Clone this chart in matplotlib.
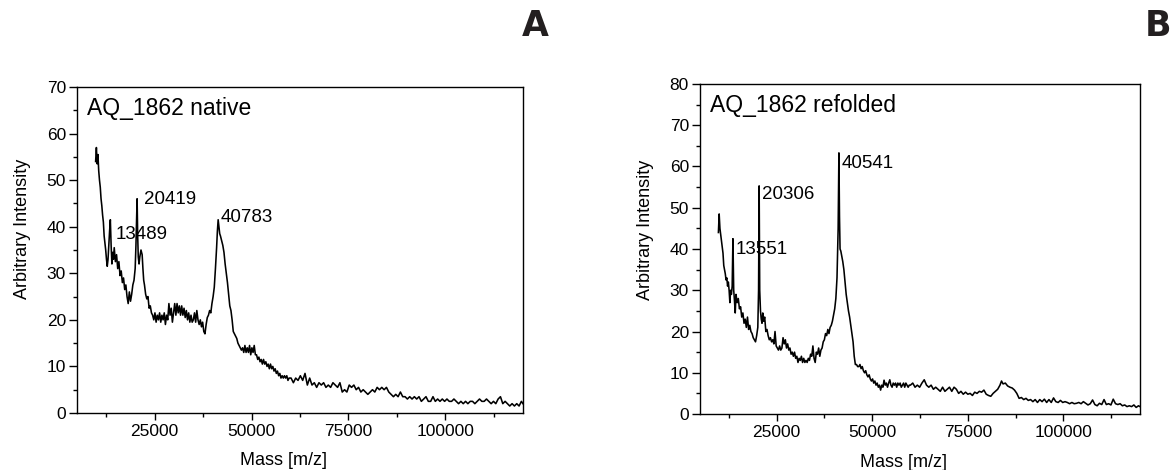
import matplotlib
matplotlib.use("Agg")
import matplotlib.pyplot as plt
from matplotlib.ticker import MultipleLocator

plt.rcParams['font.family'] = ['Liberation Sans', 'DejaVu Sans']

# ---------------- data: panel A (native) ----------------
mass_a = [
    9800, 10000, 10200, 10400, 10600, 10800, 11000, 11200, 11400, 11600,
    11800, 12000, 12200, 12400, 12600, 12800, 13000, 13200, 13400, 13600,
    13800, 14000, 14200, 14400, 14600, 14900, 15200, 15500, 15800, 16100,
    16400, 16700, 17000, 17300, 17600, 17900, 18200, 18500, 18800, 19100,
    19400, 19700, 20000, 20200, 20400, 20500, 20650, 20800, 21000, 21200,
    21500, 21800, 22000, 22200, 22400, 22700, 23000, 23300, 23600, 23900,
    24200, 24500, 24800, 25100, 25400, 25700, 26000, 26300, 26600, 26900,
    27200, 27500, 27800, 28100, 28400, 28700, 29000, 29300, 29600, 29900,
    30200, 30500, 30800, 31100, 31400, 31700, 32000, 32300, 32600, 32900,
    33200, 33500, 33800, 34100, 34400, 34700, 35000, 35300, 35600, 35900,
    36200, 36500, 36800, 37100, 37400, 37700, 38000, 38300, 38600, 38900,
    39200, 39500, 39800, 40100, 40400, 40700, 41000, 41200, 41400, 41600,
    41800, 42000, 42300, 42600, 42900, 43200, 43500, 43800, 44100, 44400,
    44700, 45000, 45300, 45600, 45900, 46200, 46500, 46800, 47100, 47400,
    47700, 48000, 48300, 48600, 48900, 49200, 49500, 49800, 50100, 50400,
    50700, 51000, 51300, 51600, 51900, 52200, 52500, 52800, 53100, 53400,
    53700, 54000, 54300, 54600, 54900, 55200, 55500, 55800, 56100, 56400,
    56700, 57000, 57300, 57600, 57900, 58200, 58500, 58800, 59100, 59400,
    59700, 60200, 60800, 61400, 62000, 62600, 63200, 63800, 64400, 65000,
    65600, 66200, 66800, 67400, 68000, 68600, 69200, 69800, 70400, 71000,
    71600, 72200, 72800, 73400, 74000, 74600, 75200, 75800, 76400, 77000,
    77600, 78200, 78800, 79400, 80000, 80600, 81200, 81800, 82400, 83000,
    83600, 84200, 84800, 85400, 86000, 86600, 87200, 87800, 88400, 89000,
    89600, 90200, 90800, 91400, 92000, 92600, 93200, 93800, 94400, 95000,
    95600, 96200, 96800, 97400, 98000, 98600, 99200, 99800, 100400, 101000,
    101600, 102200, 102800, 103400, 104000, 104600, 105200, 105800, 106400, 107000,
    107600, 108200, 108800, 109400, 110000, 110600, 111200, 111800, 112400, 113000,
    113600, 114200, 114800, 115400, 116000, 116600, 117200, 117800, 118400, 119000,
    119600, 120000,
]
intensity_a = [
    54, 57, 53.5, 55.5, 52, 50, 48.5, 46, 44.5, 42.5,
    41, 38, 36.5, 35, 33, 31.5, 33, 36, 39, 41.5,
    36, 32, 34.5, 33, 35.5, 32.5, 34, 31, 32.5, 29.5,
    30.5, 28, 29, 26.5, 27.5, 25, 23.5, 26, 24, 25.5,
    27.5, 28.5, 31, 36, 43, 46, 38, 33.5, 32, 33.5,
    35, 34, 31, 28.5, 27.5, 25.5, 24.5, 25, 22.5, 23,
    21.5, 21, 20, 21.5, 19.5, 21, 20, 21.5, 19.5, 21,
    20, 21.5, 19, 21, 20, 23.5, 21, 22.5, 19.5, 21.5,
    23.5, 21, 23.5, 21.5, 23, 21, 23, 21, 22.5, 20.5,
    22, 20, 21.5, 19.5, 21, 19.5, 20, 21.5, 19.5, 22,
    20, 19, 20, 18.5, 19.5, 17.5, 17, 19, 20.5, 21,
    22, 21.5, 23.5, 25, 27, 31, 35.5, 39, 41.5, 40,
    38.5, 38, 37, 36, 34.5, 32, 30, 28, 25.5, 23,
    22, 20, 17.5, 17, 16.5, 16, 15, 14.5, 14, 13.5,
    14, 13, 14.5, 13, 14, 13, 14.5, 12.5, 14, 13,
    14.5, 12.5, 12.5, 11.5, 12, 11, 11.5, 10.5, 11.5, 10.5,
    11, 10, 10.5, 9.5, 10.5, 9.5, 10, 9, 9.5, 8.5,
    9, 8, 8.5, 7.5, 8, 7.5, 8, 7.5, 8, 7,
    7.5, 7.5, 6.5, 7.5, 7, 8, 7, 8.5, 6, 7.5,
    6, 6.5, 5.5, 6.5, 6, 6.5, 5.5, 6, 5.5, 6.5,
    6, 5.5, 6.5, 4.5, 5, 4.5, 6, 5.5, 6, 5,
    5.5, 4.5, 5, 4.5, 4, 4.5, 5, 4.5, 5.5, 5,
    5.5, 5, 5.5, 4.5, 4, 3.5, 4, 3.5, 4.5, 3.5,
    3.5, 3, 3.5, 3, 3.5, 3, 3.5, 2.5, 3, 3.5,
    2.5, 2.5, 3.5, 2.5, 3, 2.5, 3, 2.5, 3, 2.5,
    2.5, 3, 2.5, 2, 2.5, 2, 2.5, 2, 2.5, 2.5,
    2, 2.5, 3, 2.5, 2.5, 3, 2.5, 2, 2.5, 2,
    3, 3.5, 2, 2.5, 2, 1.5, 2, 1.5, 2, 1.5,
    2.5, 2,
]

# ---------------- data: panel B (refolded) ----------------
mass_b = [
    9800, 10000, 10200, 10400, 10600, 10800, 11000, 11200, 11400, 11600,
    11800, 12000, 12200, 12400, 12600, 12800, 13000, 13200, 13400, 13600,
    13800, 14000, 14200, 14400, 14700, 15000, 15300, 15600, 15900, 16200,
    16500, 16800, 17100, 17400, 17700, 18000, 18300, 18600, 18900, 19200,
    19500, 19800, 20100, 20300, 20450, 20600, 20800, 21000, 21200, 21400,
    21600, 21900, 22200, 22500, 22800, 23100, 23400, 23700, 24000, 24300,
    24600, 24900, 25200, 25500, 25800, 26100, 26400, 26700, 27000, 27300,
    27600, 27900, 28200, 28500, 28800, 29100, 29400, 29700, 30000, 30300,
    30600, 30900, 31200, 31500, 31800, 32100, 32400, 32700, 33000, 33300,
    33600, 33900, 34200, 34500, 34800, 35100, 35400, 35700, 36000, 36300,
    36600, 36900, 37200, 37500, 37800, 38100, 38400, 38700, 39000, 39300,
    39600, 39900, 40200, 40500, 40800, 41100, 41300, 41450, 41600, 41800,
    42000, 42300, 42600, 42900, 43200, 43500, 43800, 44100, 44400, 44700,
    45000, 45300, 45600, 45900, 46200, 46500, 46800, 47100, 47400, 47700,
    48000, 48300, 48600, 48900, 49200, 49500, 49800, 50100, 50400, 50700,
    51000, 51300, 51600, 51900, 52200, 52500, 52800, 53100, 53400, 53700,
    54000, 54300, 54600, 54900, 55200, 55500, 55800, 56100, 56400, 56700,
    57000, 57300, 57600, 57900, 58200, 58500, 58800, 59100, 59400, 59700,
    60000, 60600, 61200, 61800, 62400, 63000, 63600, 64200, 64800, 65400,
    66000, 66600, 67200, 67800, 68400, 69000, 69600, 70200, 70800, 71400,
    72000, 72600, 73200, 73800, 74400, 75000, 75600, 76200, 76800, 77400,
    78000, 78600, 79200, 79800, 80400, 81000, 81600, 82200, 82800, 83400,
    83800, 84200, 84800, 85400, 86000, 86600, 87200, 87800, 88400, 89000,
    89600, 90200, 90800, 91400, 92000, 92600, 93200, 93800, 94400, 95000,
    95600, 96200, 96800, 97400, 98000, 98600, 99200, 99800, 100400, 101000,
    101600, 102200, 102800, 103400, 104000, 104600, 105200, 105800, 106400, 107000,
    107600, 108200, 108800, 109400, 110000, 110600, 111200, 111800, 112400, 113000,
    113600, 114200, 114800, 115400, 116000, 116600, 117200, 117800, 118400, 119000,
    119600, 120000,
]
intensity_b = [
    44, 48.5, 45, 43.5, 42, 40.5, 39, 36, 35, 34,
    32.5, 33, 31, 32, 30, 27, 30, 29, 31, 42.5,
    30, 27.5, 24.5, 29, 27, 28, 25.5, 26, 23.5, 24.5,
    22, 23, 21, 23.5, 20.5, 21.5, 20, 19.5, 18.5, 18,
    17.5, 19, 21, 30, 55.3, 30, 25, 23, 22, 24.5,
    22.5, 23.5, 20, 20.5, 19, 18, 18.5, 17.5, 18, 17,
    20, 16.5, 16, 15.5, 16.5, 15.5, 16, 18.5, 17, 18,
    16, 17, 15.5, 16, 14.5, 15, 14, 15, 13.5, 14,
    12.5, 13.5, 13, 14, 12.5, 13.5, 12.5, 13, 12.5, 13.5,
    13, 14.5, 14, 16.5, 13.5, 12.5, 15, 14.5, 16, 14,
    15.5, 16, 17.5, 18, 19.5, 19, 20.5, 19.5, 21, 21.5,
    22.5, 24, 25.5, 28, 33, 45, 63.3, 48, 40, 39.5,
    38.5, 37, 35, 32, 29, 27, 25, 23.5, 21.5, 19.5,
    17.5, 14, 12, 12, 11.5, 11.5, 12, 11, 11.5, 10.5,
    10, 10.5, 9.5, 9, 9.5, 8.5, 8, 8.5, 7.5, 8,
    7, 7.5, 6.5, 7, 5.8, 7, 6.5, 8.2, 7, 7.5,
    6.5, 7.5, 8.3, 7, 6.5, 7.5, 7, 7.5, 6.5, 7.5,
    7, 7.5, 6.5, 7, 7.5, 6.5, 7.5, 7, 6.5, 7,
    7, 7.5, 6.5, 7, 6.5, 7.5, 8.3, 7, 6.5, 7,
    6, 6.5, 6, 5.5, 6.5, 5.5, 6, 6.5, 5.5, 6.5,
    6, 5, 5.5, 4.8, 5.3, 4.8, 5, 4.5, 5.3, 5,
    5.5, 5.3, 5.8, 4.8, 4.5, 4.3, 5, 5.5, 6, 7,
    8, 7.3, 7.5, 6.8, 6.5, 6.3, 5.8, 5, 3.8, 4,
    3.5, 3.8, 3.3, 3.5, 3, 3.5, 2.8, 3.5, 3, 3.6,
    2.8, 3.5, 2.8, 3.9, 3, 2.8, 3.3, 2.8, 3, 2.8,
    2.5, 2.8, 2.5, 2.6, 2.8, 2.5, 3, 2.6, 2.2, 2.5,
    3.4, 2.3, 2, 2.6, 2.3, 3.5, 2.3, 2.5, 2.2, 3.6,
    2.5, 2.3, 2.5, 2, 2.2, 1.8, 2, 1.8, 2.2, 1.6,
    2, 1.8,
]

titles = ["AQ_1862 native", "AQ_1862 refolded"]
peak_labels_a = ["13489", "20419", "40783"]
peak_pos_a = [(15000, 38.4), (22350, 45.9), (42130, 41.9)]
peak_labels_b = ["13551", "20306", "40541"]
peak_pos_b = [(14200, 40.0), (21260, 53.1), (42080, 60.8)]
ylims = [70, 80]
panel_letters = ["A", "B"]

assert len(mass_a) == len(intensity_a)
assert len(mass_b) == len(intensity_b)

fig = plt.figure(figsize=(11.72, 4.70), dpi=100)
ax_a = fig.add_axes([0.0657, 0.1213, 0.3805, 0.6936])
ax_b = fig.add_axes([0.5973, 0.1191, 0.3754, 0.7022])

panels = [
    (ax_a, mass_a, intensity_a, titles[0], peak_labels_a, peak_pos_a, ylims[0], 0.564),
    (ax_b, mass_b, intensity_b, titles[1], peak_labels_b, peak_pos_b, ylims[1], 0.558),
]

for ax, m, inten, title, plabels, ppos, ytop, ylab_y in panels:
    ax.plot(m, inten, color='black', lw=1.15)
    ax.set_xlim(5000, 120000)
    ax.set_ylim(0, ytop)
    ax.xaxis.set_major_locator(MultipleLocator(25000))
    ax.xaxis.set_minor_locator(MultipleLocator(12500))
    ax.yaxis.set_major_locator(MultipleLocator(10))
    ax.yaxis.set_minor_locator(MultipleLocator(5))
    ax.tick_params(axis='x', which='major', direction='out', length=5, width=1,
                   labelsize=12.5, pad=3)
    ax.tick_params(axis='x', which='minor', direction='out', length=3, width=1)
    ax.tick_params(axis='y', which='major', direction='out', length=6, width=1,
                   labelsize=12.5, pad=2)
    ax.tick_params(axis='y', which='minor', direction='out', length=3, width=1)
    for sp in ax.spines.values():
        sp.set_linewidth(1.0)
    ax.set_xlabel("Mass [m/z]", fontsize=13)
    ax.set_ylabel("Arbitrary Intensity", fontsize=13)
    ax.xaxis.set_label_coords(0.462, -0.12)
    ax.yaxis.set_label_coords(-0.104, ylab_y)
    ax.text(0.022, 0.935, title, transform=ax.transAxes, fontsize=16.5,
            ha='left', va='center')
    for lab, (px, py) in zip(plabels, ppos):
        ax.text(px, py, lab, fontsize=13.5, ha='left', va='center')

fig.text(535 / 1172, 1 - 26 / 470, panel_letters[0], fontsize=25,
         fontweight='bold', ha='center', va='center', color='#231f20',
         family=['DejaVu Sans'])
fig.text(1171 / 1172, 1 - 26 / 470, panel_letters[1], fontsize=25,
         fontweight='bold', ha='right', va='center', color='#231f20',
         family=['DejaVu Sans'])

fig.savefig("out.png", dpi=100)
